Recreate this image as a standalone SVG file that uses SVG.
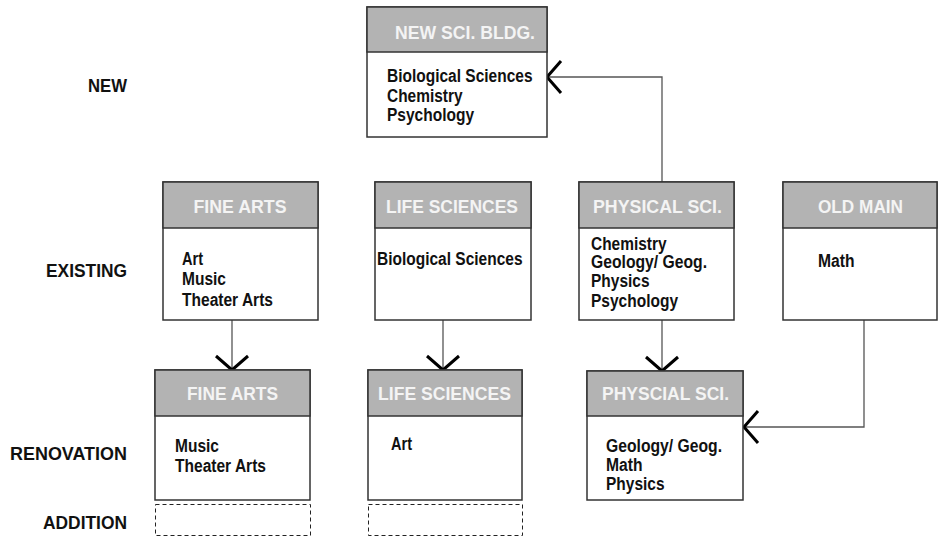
<svg xmlns="http://www.w3.org/2000/svg" width="941" height="537" viewBox="0 0 941 537">
<style>
  .box { fill: #ffffff; stroke: #333333; stroke-width: 1.5; }
  .hdr { fill: #b3b3b3; stroke: #333333; stroke-width: 1.5; }
  .title { font-family: "Liberation Sans", Arial, sans-serif; font-weight: bold; font-size: 18.5px; fill: #f4f4f4; text-anchor: middle; }
  .body { font-family: "Liberation Sans", Arial, sans-serif; font-weight: bold; font-size: 18px; fill: #111111; }
  .lbl { font-family: "Liberation Sans", Arial, sans-serif; font-weight: bold; font-size: 19px; fill: #111111; text-anchor: end; }
  .add { fill: none; stroke: #222222; stroke-width: 1; stroke-dasharray: 4 3; }
  .conn { fill: none; stroke: #555555; stroke-width: 1.3; marker-end: url(#chev); }
</style>
<defs>
  <marker id="chev" markerUnits="userSpaceOnUse" viewBox="-17 -20 20 40" markerWidth="20" markerHeight="40" refX="0" refY="0" orient="auto">
    <path d="M -14 -16 L 0 0 L -14 16" fill="none" stroke="#000000" stroke-width="3"/>
  </marker>
</defs>
<rect width="941" height="537" fill="#ffffff"/>

<g id="row-labels">
  <text class="lbl" x="127" y="92" textLength="39" lengthAdjust="spacingAndGlyphs">NEW</text>
  <text class="lbl" x="127" y="277" textLength="81" lengthAdjust="spacingAndGlyphs">EXISTING</text>
  <text class="lbl" x="127" y="460" textLength="117" lengthAdjust="spacingAndGlyphs">RENOVATION</text>
  <text class="lbl" x="127" y="529" textLength="84" lengthAdjust="spacingAndGlyphs">ADDITION</text>
</g>

<g id="connectors">
  <path class="conn" d="M 662 183 L 662 77 L 547 77"/>
  <path class="conn" d="M 232 320 L 232 370"/>
  <path class="conn" d="M 443 320 L 443 370"/>
  <path class="conn" d="M 662 320 L 662 371"/>
  <path class="conn" d="M 864 320 L 864 427 L 744 427"/>
</g>

<g id="new-sci-bldg">
  <rect class="box" x="367" y="7" width="180" height="130"/>
  <rect class="hdr" x="367" y="7" width="180" height="45"/>
  <text class="title" x="465" y="39" textLength="140" lengthAdjust="spacingAndGlyphs">NEW SCI. BLDG.</text>
  <text class="body" x="387" y="82" textLength="145.5" lengthAdjust="spacingAndGlyphs">Biological Sciences</text>
  <text class="body" x="387" y="101.5" textLength="75.5" lengthAdjust="spacingAndGlyphs">Chemistry</text>
  <text class="body" x="387" y="121" textLength="87" lengthAdjust="spacingAndGlyphs">Psychology</text>
</g>

<g id="fine-arts-existing">
  <rect class="box" x="163" y="182" width="155" height="138"/>
  <rect class="hdr" x="163" y="182" width="155" height="46"/>
  <text class="title" x="240" y="212.5" textLength="93" lengthAdjust="spacingAndGlyphs">FINE ARTS</text>
  <text class="body" x="182" y="265" textLength="21" lengthAdjust="spacingAndGlyphs">Art</text>
  <text class="body" x="182" y="285" textLength="44" lengthAdjust="spacingAndGlyphs">Music</text>
  <text class="body" x="182" y="305.5" textLength="91" lengthAdjust="spacingAndGlyphs">Theater Arts</text>
</g>

<g id="life-sciences-existing">
  <rect class="box" x="375" y="182" width="156" height="138"/>
  <rect class="hdr" x="375" y="182" width="156" height="46"/>
  <text class="title" x="452" y="212.5" textLength="132" lengthAdjust="spacingAndGlyphs">LIFE SCIENCES</text>
  <text class="body" x="377" y="265" textLength="145.5" lengthAdjust="spacingAndGlyphs">Biological Sciences</text>
</g>

<g id="physical-sci-existing">
  <rect class="box" x="579" y="182" width="155" height="138"/>
  <rect class="hdr" x="579" y="182" width="155" height="46"/>
  <text class="title" x="657.5" y="212.5" textLength="129" lengthAdjust="spacingAndGlyphs">PHYSICAL SCI.</text>
  <text class="body" x="591" y="249.5" textLength="75.5" lengthAdjust="spacingAndGlyphs">Chemistry</text>
  <text class="body" x="591" y="268" textLength="116" lengthAdjust="spacingAndGlyphs">Geology/ Geog.</text>
  <text class="body" x="591" y="287" textLength="58.5" lengthAdjust="spacingAndGlyphs">Physics</text>
  <text class="body" x="591" y="306.5" textLength="87" lengthAdjust="spacingAndGlyphs">Psychology</text>
</g>

<g id="old-main">
  <rect class="box" x="783" y="182" width="154" height="138"/>
  <rect class="hdr" x="783" y="182" width="154" height="46"/>
  <text class="title" x="860.5" y="212.5" textLength="85" lengthAdjust="spacingAndGlyphs">OLD MAIN</text>
  <text class="body" x="818" y="266.5" textLength="36.5" lengthAdjust="spacingAndGlyphs">Math</text>
</g>

<g id="fine-arts-renovation">
  <rect class="box" x="155" y="370" width="155" height="130"/>
  <rect class="hdr" x="155" y="370" width="155" height="46"/>
  <text class="title" x="232.5" y="399.5" textLength="91" lengthAdjust="spacingAndGlyphs">FINE ARTS</text>
  <text class="body" x="175" y="452" textLength="44" lengthAdjust="spacingAndGlyphs">Music</text>
  <text class="body" x="175" y="472" textLength="91" lengthAdjust="spacingAndGlyphs">Theater Arts</text>
</g>

<g id="life-sciences-renovation">
  <rect class="box" x="368" y="370" width="154" height="130"/>
  <rect class="hdr" x="368" y="370" width="154" height="46"/>
  <text class="title" x="444.5" y="399.5" textLength="133" lengthAdjust="spacingAndGlyphs">LIFE SCIENCES</text>
  <text class="body" x="391" y="450" textLength="21" lengthAdjust="spacingAndGlyphs">Art</text>
</g>

<g id="physical-sci-renovation">
  <rect class="box" x="587" y="371" width="156" height="129"/>
  <rect class="hdr" x="587" y="371" width="156" height="45"/>
  <text class="title" x="665.5" y="400" textLength="127" lengthAdjust="spacingAndGlyphs">PHYSCIAL SCI.</text>
  <text class="body" x="606" y="452" textLength="116" lengthAdjust="spacingAndGlyphs">Geology/ Geog.</text>
  <text class="body" x="606" y="471" textLength="36.5" lengthAdjust="spacingAndGlyphs">Math</text>
  <text class="body" x="606" y="490" textLength="58.5" lengthAdjust="spacingAndGlyphs">Physics</text>
</g>

<g id="fine-arts-addition">
  <rect class="add" x="155.5" y="504.5" width="155" height="31"/>
</g>

<g id="life-sciences-addition">
  <rect class="add" x="368.5" y="504.5" width="154" height="31"/>
</g>
</svg>
